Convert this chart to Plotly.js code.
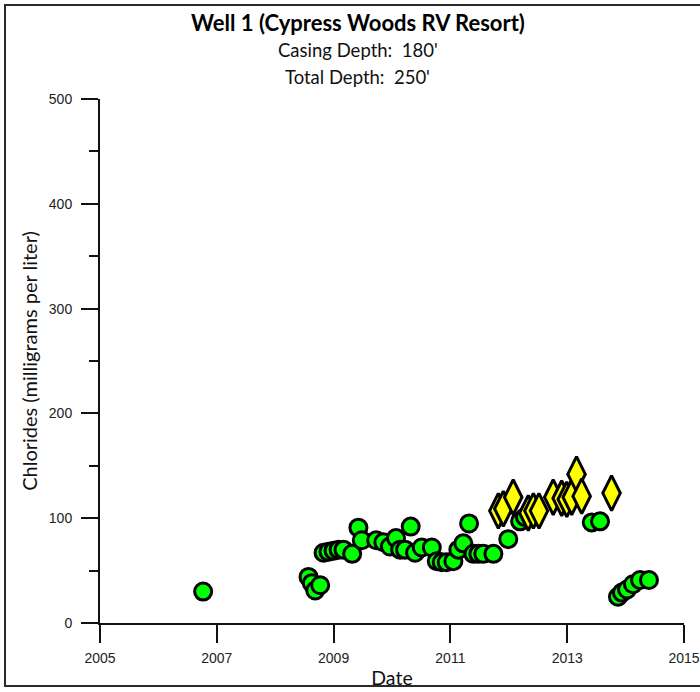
<!DOCTYPE html>
<html>
<head>
<meta charset="utf-8">
<script src="https://cdn.plot.ly/plotly-3.0.1.min.js"></script>
<style>
  html, body { margin: 0; padding: 0; background: #fff; }
  #wrap { position: relative; width: 700px; height: 692px; overflow: hidden; }
  #chart { width: 700px; height: 692px; }
  #frame { position: absolute; left: 4px; top: 4px; width: 710px; height: 683px;
           border: 2px solid #2a2a2a; pointer-events: none; box-sizing: border-box; }
</style>
</head>
<body>
<div id="wrap">
  <div id="chart"></div>
  <div id="frame"></div>
</div>
<script>
// Green circles (routine samples)
const circleDates = [
  '2006-10-08','2008-07-28','2008-08-18','2008-09-08','2008-10-09','2008-10-30',
  '2008-11-30','2009-01-01','2009-02-01','2009-03-04','2009-04-27','2009-06-05',
  '2009-06-26','2009-09-24','2009-11-08','2009-12-19','2010-01-26','2010-02-21',
  '2010-03-24','2010-04-28','2010-05-25','2010-07-06','2010-09-07','2010-10-08',
  '2010-11-08','2010-12-09','2011-01-20','2011-02-20','2011-03-23','2011-04-28',
  '2011-05-25','2011-06-25','2011-07-26','2011-09-27','2011-12-29','2012-03-12',
  '2012-04-12','2013-06-03','2013-07-25','2013-11-14','2013-12-09','2014-01-10',
  '2014-02-16','2014-04-01','2014-05-27'
];
const circleValues = [
  30, 44, 38, 31, 36, 67,
  68, 69, 70, 70, 66, 91,
  79, 79, 77, 73, 81, 70,
  70, 92, 67, 72, 72, 59,
  58, 58, 59, 70, 76, 95,
  66, 66, 66, 66, 80, 97,
  101, 96, 97, 25, 29, 32,
  37, 41, 41
];

// Yellow diamonds
const diamondDates = [
  '2011-10-28','2011-11-28','2012-01-29','2012-05-02','2012-06-03','2012-07-08',
  '2012-10-05','2012-11-27','2012-12-29','2013-01-29','2013-02-28','2013-04-01',
  '2013-10-05'
];
const diamondValues = [
  107, 109, 120, 105, 107, 107,
  120, 119, 118, 120, 142, 121,
  124
];

const xTickVals = ['2005-01-01','2007-01-01','2009-01-01','2011-01-01','2013-01-01','2015-01-01'];
const xTickText = ['2005','2007','2009','2011','2013','2015'];
const yTickVals = [0, 100, 200, 300, 400, 500];

const titleText = 'Well 1 (Cypress Woods RV Resort)';
const sub1 = "Casing Depth:  180'";
const sub2 = "Total Depth:  250'";

const traces = [
  {
    type: 'scatter', mode: 'markers',
    x: circleDates, y: circleValues,
    marker: { symbol: 'circle', size: 17, color: '#00ff00',
              line: { color: '#000', width: 3 } },
    hoverinfo: 'skip', showlegend: false, cliponaxis: false
  },
  {
    type: 'scatter', mode: 'markers',
    x: diamondDates, y: diamondValues,
    marker: { symbol: 'diamond-tall', size: 25, color: '#ffff00',
              line: { color: '#000', width: 3 } },
    hoverinfo: 'skip', showlegend: false, cliponaxis: false
  }
];

const labelFont = { family: 'Lato, "Open Sans", sans-serif', color: '#111' };
const tickFont = { family: 'Arial, "Liberation Sans", sans-serif', size: 14, color: '#222' };

const layout = {
  width: 700, height: 692,
  margin: { l: 99.5, r: 16, t: 99, b: 69 },
  paper_bgcolor: '#fff', plot_bgcolor: '#fff',
  showlegend: false,
  xaxis: {
    type: 'date',
    range: ['2005-01-01', '2015-01-01'],
    tickmode: 'array', tickvals: xTickVals, ticktext: xTickText,
    ticks: 'outside', ticklen: 18, tickwidth: 2, tickcolor: '#111',
    showline: true, linecolor: '#111', linewidth: 2,
    showgrid: false, zeroline: false,
    tickfont: tickFont,
    ticklabelstandoff: 3,
    title: { text: 'Date', font: Object.assign({ size: 19.5 }, labelFont), standoff: 7 }
  },
  yaxis: {
    range: [0, 500],
    tickmode: 'array', tickvals: yTickVals,
    ticks: 'outside', ticklen: 17, tickwidth: 2, tickcolor: '#111',
    minor: { dtick: 50, tick0: 0, ticks: 'outside', ticklen: 9, tickwidth: 2, tickcolor: '#111', showgrid: false },
    showline: true, linecolor: '#111', linewidth: 2,
    showgrid: false, zeroline: false,
    tickfont: tickFont,
    ticklabelstandoff: 6,
    title: { text: 'Chlorides (milligrams per liter)', font: Object.assign({ size: 20 }, labelFont), standoff: 6 }
  },
  annotations: [
    { text: '<b>' + titleText + '</b>', xref: 'paper', yref: 'paper',
      x: 0.441, y: (623 - 22) / 524, xanchor: 'center', yanchor: 'middle', showarrow: false,
      font: { family: 'Lato, "Open Sans", sans-serif', size: 22, color: '#000' } },
    { text: sub1, xref: 'paper', yref: 'paper',
      x: 0.441, y: (623 - 50) / 524, xanchor: 'center', yanchor: 'middle', showarrow: false,
      font: { family: 'Lato, "Open Sans", sans-serif', size: 18.5, color: '#111' } },
    { text: sub2, xref: 'paper', yref: 'paper',
      x: 0.441, y: (623 - 77) / 524, xanchor: 'center', yanchor: 'middle', showarrow: false,
      font: { family: 'Lato, "Open Sans", sans-serif', size: 18.5, color: '#111' } }
  ]
};

Plotly.newPlot('chart', traces, layout, { displayModeBar: false, staticPlot: true });
</script>
</body>
</html>
